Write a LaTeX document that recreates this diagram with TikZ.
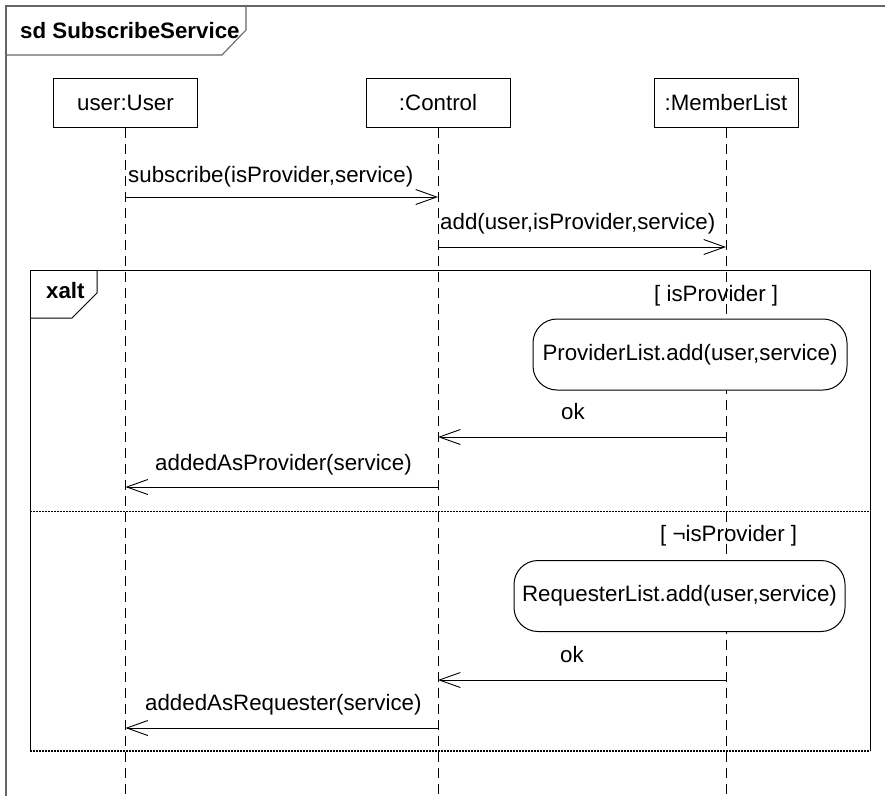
\documentclass[tikz,border=0pt]{standalone}
\usepackage{fontspec}
\setmainfont{Liberation Sans}
\usetikzlibrary{arrows.meta}
\begin{document}
\begin{tikzpicture}[x=1pt,y=-1pt,
  every node/.style={font=\fontsize{22.3}{26}\selectfont},
  head/.style={draw, line width=1pt, minimum width=144pt, minimum height=49pt, inner sep=0pt},
  lifeline/.style={line width=1pt, dash pattern=on 10pt off 6pt},
  msg/.style={line width=0.9pt, -{Straight Barb[length=21pt,width=15pt,line width=0.9pt]}},
  lbl/.style={anchor=base west, inner sep=0pt},
  act/.style={draw, fill=white, line width=1pt, rounded corners=24pt, minimum height=71pt, inner sep=0pt},
  frameline/.style={line width=1.1pt, draw=black!60},
  fragline/.style={line width=1pt},
  sepline/.style={line width=1pt, dash pattern=on 1.5pt off 1.5pt},
  fragbottom/.style={line width=1.6pt, dash pattern=on 2pt off 1pt},
  tag/.style={anchor=base west, inner sep=0pt, font=\fontsize{22.3}{26}\selectfont\bfseries}]
\useasboundingbox (0,0) rectangle (885,796);

% diagram frame and its name tag
\draw[frameline] (6,796) -- (6,6) -- (885,6);
\draw[frameline] (246,6) -- (246,30) -- (222,55) -- (6,55);
\node[tag] (sdname) at (20,38) {sd SubscribeService};

% lifeline heads
\node[head] (user) at (125.5,102.5) {user:User};
\node[head] (ctrl) at (438,102.5) {:Control};
\node[head] (ml) at (726,102.5) {:MemberList};

% lifelines
\coordinate (userEnd) at (user.south |- {(0,796)});
\coordinate (ctrlEnd) at (ctrl.south |- {(0,796)});
\coordinate (mlEnd) at (ml.south |- {(0,796)});
\draw[lifeline] (user.south) -- (userEnd);
\draw[lifeline] (ctrl.south) -- (ctrlEnd);
\draw[lifeline] (ml.south) -- (mlEnd);

% message anchor points on the lifelines
\coordinate (u1) at (user.south |- {(0,197)});
\coordinate (c1) at (ctrl.south |- {(0,197)});
\coordinate (c2) at (ctrl.south |- {(0,247)});
\coordinate (m2) at (ml.south |- {(0,247)});
\coordinate (m3) at (ml.south |- {(0,437)});
\coordinate (c3) at (ctrl.south |- {(0,437)});
\coordinate (c4) at (ctrl.south |- {(0,487)});
\coordinate (u4) at (user.south |- {(0,487)});
\coordinate (m5) at (ml.south |- {(0,680)});
\coordinate (c5) at (ctrl.south |- {(0,680)});
\coordinate (c6) at (ctrl.south |- {(0,728)});
\coordinate (u6) at (user.south |- {(0,728)});

% messages before the fragment
\draw[msg] (u1) -- (c1);
\node[lbl] (l1) at (128,182) {subscribe(isProvider,service)};
\draw[msg] (c2) -- (m2);
\node[lbl] (l2) at (440,229) {add(user,isProvider,service)};

% xalt combined fragment
\draw[fragline] (30,751) -- (30,270) -- (870,270) -- (870,751);
\draw[fragbottom] (30,751) -- (870,751);
\draw[fragline] (97,270) -- (97,293) -- (72,318) -- (30,318);
\node[tag] (xalt) at (46,298) {xalt};
\draw[sepline] (30,511) -- (870,511);

% first operand
\node[lbl] (g1) at (654,301) {[ isProvider ]};
\node[act, minimum width=314pt] (pl) at (690,354.5) {ProviderList.add(user,service)};
\draw[msg] (m3) -- (c3);
\node[lbl] (ok1) at (561,419) {ok};
\draw[msg] (c4) -- (u4);
\node[lbl] (l4) at (155,470) {addedAsProvider(service)};

% second operand
\node[lbl] (g2) at (660,541) {[ ¬isProvider ]};
\node[act, minimum width=331pt] (rl) at (679.5,596) {RequesterList.add(user,service)};
\draw[msg] (m5) -- (c5);
\node[lbl] (ok2) at (560,662) {ok};
\draw[msg] (c6) -- (u6);
\node[lbl] (l6) at (145,710) {addedAsRequester(service)};
\end{tikzpicture}
\end{document}
